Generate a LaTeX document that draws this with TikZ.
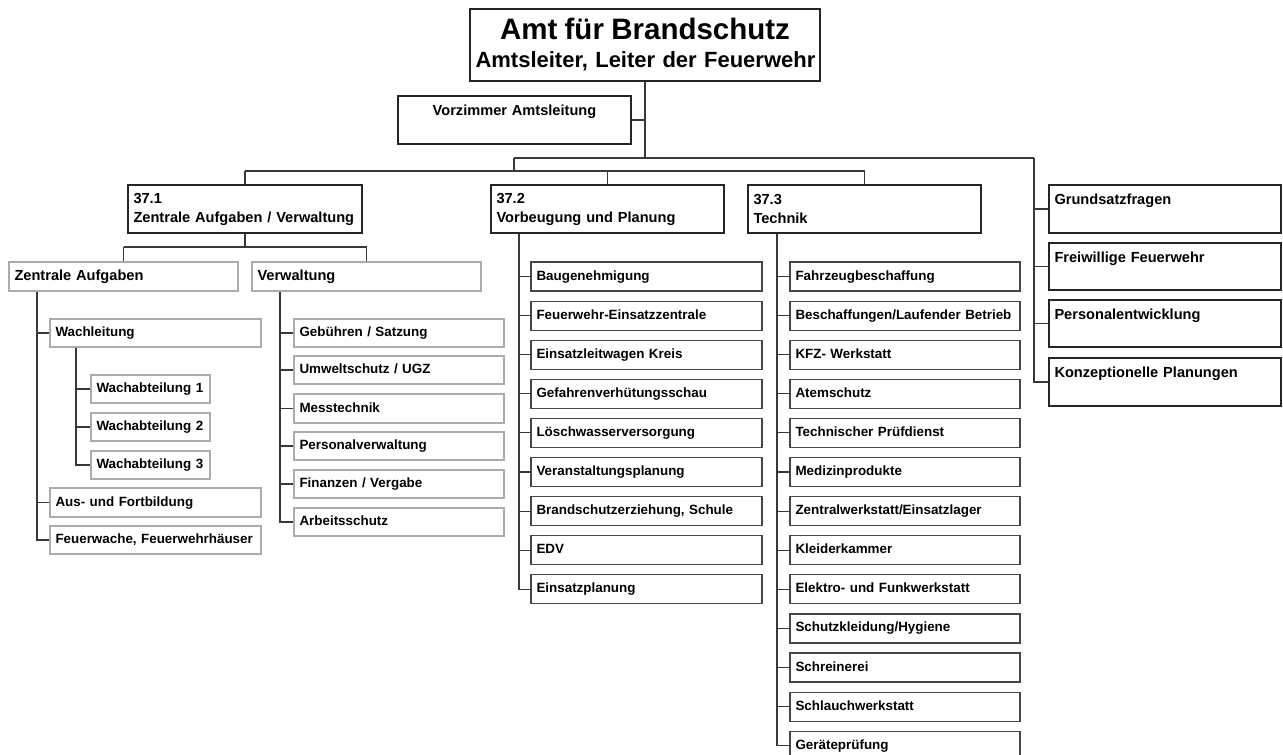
\documentclass[tikz,border=0pt]{standalone}
\usepackage{fontspec}
\setmainfont{Liberation Sans}
\tikzset{
 conn/.style={draw=black!78, line width=1.1pt},
 basebox/.style={draw, fill=white, line width=1.2pt, inner xsep=5.5pt, inner ysep=0pt, align=left},
 smallbox/.style={basebox, font=\bfseries\fontsize{13.4}{16}\selectfont, text height=10pt, text depth=3pt},
 midbox/.style={smallbox, draw=black!72},
 lightbox/.style={smallbox, draw=black!33},
 lightbig/.style={basebox, draw=black!33, font=\bfseries\fontsize{14.6}{19}\selectfont, text height=10.5pt, text depth=3pt},
 headbox/.style={basebox, draw=black!85, font=\bfseries\fontsize{14.6}{19}\selectfont},
 topbox/.style={basebox, draw=black!85, align=center, font=\bfseries\fontsize{22}{28}\selectfont},
}
\newcommand\orgbox[7][]{%
 \pgfmathsetmacro\obW{#5-#3}\pgfmathsetmacro\obH{#6-#4}%
 \pgfmathsetmacro\obT{#5-#3-11}%
 \pgfmathsetmacro\obX{(#3+#5)/2}\pgfmathsetmacro\obY{(#4+#6)/2}%
 \node[#1, minimum width=\obW pt, minimum height=\obH pt, text width=\obT pt] (#2) at (\obX,\obY) {#7};}
\begin{document}
\begin{tikzpicture}[x=1pt,y=-1pt]
\clip (0,0) rectangle (1283,755);
\fill[white] (0,0) rectangle (1283,755);
% top level
\orgbox[topbox]{top}{470}{9}{820}{81}{\mbox{\fontsize{29.5}{28}\selectfont Amt für Brandschutz}\\\mbox{Amtsleiter, Leiter der Feuerwehr}}
\orgbox[headbox,align=center]{vz}{398}{96}{631}{144}{Vorzimmer Amtsleitung\\\mbox{}}
% sections
\orgbox[headbox]{s1}{128}{185}{362}{233}{37.1\\Zentrale Aufgaben / Verwaltung}
\orgbox[headbox]{s2}{491}{185}{724}{233}{37.2\\Vorbeugung und Planung}
\orgbox[headbox]{s3}{748}{185}{981}{233}{37.3\\Technik}
% right column
\orgbox[headbox]{r1}{1049}{185}{1281}{233}{Grundsatzfragen\\\mbox{}}
\orgbox[headbox]{r2}{1049}{243}{1281}{290}{Freiwillige Feuerwehr\\\mbox{}}
\orgbox[headbox]{r3}{1049}{300}{1281}{347}{Personalentwicklung\\\mbox{}}
\orgbox[headbox]{r4}{1049}{358}{1281}{406}{Konzeptionelle Planungen\\\mbox{}}
% 37.1 subdivisions
\orgbox[lightbig]{za}{9}{262}{238}{291}{Zentrale Aufgaben}
\orgbox[lightbig]{vw}{252}{262}{481}{291}{Verwaltung}
\orgbox[lightbox]{wl}{50}{319}{261}{347}{Wachleitung}
\orgbox[lightbox]{wa1}{91}{375}{210}{403}{Wachabteilung 1}
\orgbox[lightbox]{wa2}{91}{413}{210}{441}{Wachabteilung 2}
\orgbox[lightbox]{wa3}{91}{451}{210}{479}{Wachabteilung 3}
\orgbox[lightbox]{af}{50}{488}{261}{517}{Aus- und Fortbildung}
\orgbox[lightbox]{fw}{50}{526}{261}{554}{Feuerwache, Feuerwehrhäuser}
\orgbox[lightbox]{v1}{294}{319}{504}{347}{Gebühren / Satzung}
\orgbox[lightbox]{v2}{294}{356}{504}{384}{Umweltschutz / UGZ}
\orgbox[lightbox]{v3}{294}{394}{504}{423}{Messtechnik}
\orgbox[lightbox]{v4}{294}{432}{504}{460}{Personalverwaltung}
\orgbox[lightbox]{v5}{294}{470}{504}{498}{Finanzen / Vergabe}
\orgbox[lightbox]{v6}{294}{508}{504}{536}{Arbeitsschutz}
% 37.2 children
\foreach \t [count=\i from 0] in {Baugenehmigung, Feuerwehr-Einsatzzentrale, Einsatzleitwagen Kreis, Gefahrenverhütungsschau, Löschwasserversorgung, Veranstaltungsplanung, {Brandschutzerziehung, Schule}, EDV, Einsatzplanung}{
 \pgfmathsetmacro\yy{262+39.1*\i}
 \orgbox[midbox]{p\i}{531}{\yy}{762}{\yy+29}{\t}
}
% 37.3 children
\foreach \t [count=\i from 0] in {Fahrzeugbeschaffung, Beschaffungen/Laufender~Betrieb, KFZ- Werkstatt, Atemschutz, Technischer Prüfdienst, Medizinprodukte, Zentralwerkstatt/Einsatzlager, Kleiderkammer, Elektro- und Funkwerkstatt, Schutzkleidung/Hygiene, Schreinerei, Schlauchwerkstatt, Geräteprüfung}{
 \pgfmathsetmacro\yy{262+39.1*\i}
 \orgbox[midbox]{t\i}{790}{\yy}{1020}{\yy+29}{\t}
}
% bus coordinates
\coordinate (b1l) at (514,158);
\coordinate (b1r) at (1034,158);
\coordinate (b2) at (514,171);
\coordinate (b3) at (245,247);
\coordinate (zax) at (37,0);
\coordinate (wlx) at (76,0);
\coordinate (vwx) at (280,0);
\coordinate (px) at (519,0);
\coordinate (tx) at (777,0);
% top connectors
\draw[conn] (top.south) -- (top.south |- b1l);
\draw[conn] (vz.east) -- (vz.east -| top.south);
\draw[conn] (b1l) -- (b1r);
\draw[conn] (b1l) -- (b2);
\draw[conn] (s1.north |- b2) -- (s3.north |- b2);
\foreach \n in {s1,s2,s3} \draw[conn] (\n.north) -- (\n.north |- b2);
\draw[conn] (b1r) |- (r4.west);
\foreach \n in {r1,r2,r3} \draw[conn] (b1r |- \n.west) -- (\n.west);
% 37.1
\draw[conn] (s1.south) -- (s1.south |- b3);
\draw[conn] (za.north |- b3) -- (vw.north |- b3);
\draw[conn] (za.north) -- (za.north |- b3);
\draw[conn] (vw.north) -- (vw.north |- b3);
\draw[conn] (zax |- za.south) |- (fw.west);
\foreach \n in {wl,af} \draw[conn] (zax |- \n.west) -- (\n.west);
\draw[conn] (wlx |- wl.south) |- (wa3.west);
\foreach \n in {wa1,wa2} \draw[conn] (wlx |- \n.west) -- (\n.west);
\draw[conn] (vwx |- vw.south) |- (v6.west);
\foreach \n in {v1,v2,v3,v4,v5} \draw[conn] (vwx |- \n.west) -- (\n.west);
% 37.2
\draw[conn] (px |- s2.south) |- (p8.west);
\foreach \i in {0,...,7} \draw[conn] (px |- p\i.west) -- (p\i.west);
% 37.3
\draw[conn] (tx |- s3.south) |- (t12.west);
\foreach \i in {0,...,11} \draw[conn] (tx |- t\i.west) -- (t\i.west);
\end{tikzpicture}
\end{document}
